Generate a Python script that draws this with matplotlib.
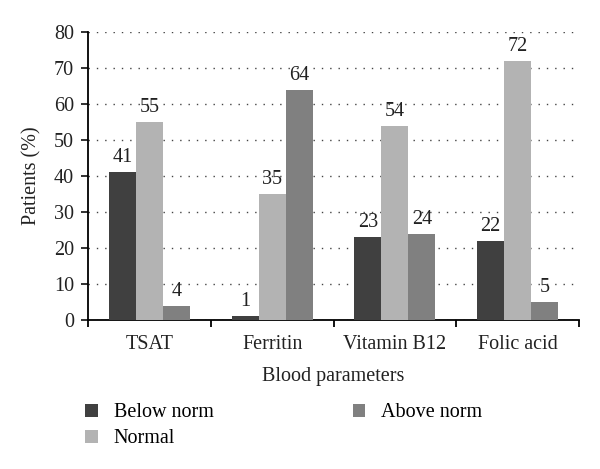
import matplotlib
matplotlib.use("Agg")
import matplotlib.pyplot as plt
from matplotlib.patches import Patch
import numpy as np

categories = ["TSAT", "Ferritin", "Vitamin B12", "Folic acid"]
series_names = ["Below norm", "Normal", "Above norm"]
below_norm = [41, 1, 23, 22]
normal = [55, 35, 54, 72]
above_norm = [4, 64, 24, 5]
colors = ["#404040", "#b3b3b3", "#808080"]
yticks = [0, 10, 20, 30, 40, 50, 60, 70, 80]

plt.rcParams['font.family'] = ['Liberation Serif', 'DejaVu Serif']
FS = 14.5

fig = plt.figure(figsize=(6.0, 4.69), dpi=100)
ax = fig.add_axes([0.1467, 0.3177, 0.965 - 0.1467, 0.9318 - 0.3177])

x = np.arange(len(categories))
w = 0.22
for i, (vals, c) in enumerate(zip([below_norm, normal, above_norm], colors)):
    pos = x + (i - 1) * w
    ax.bar(pos, vals, width=w, color=c, zorder=3, label=series_names[i])
    for p, v in zip(pos, vals):
        ax.text(p, v + 1.4, str(v), ha='center', va='bottom', fontsize=FS, color='#222222', zorder=4)

ax.set_xlim(-0.5, len(categories) - 0.5)
ax.set_ylim(0, 80)
ax.set_yticks(yticks)
ax.yaxis.grid(True, linestyle=(0, (1, 5)), color='#444444', linewidth=1.0, zorder=0)
ax.set_axisbelow(True)
for s in ['top', 'right']:
    ax.spines[s].set_visible(False)
ax.spines['left'].set_linewidth(1.3)
ax.spines['bottom'].set_linewidth(1.3)

ax.set_xticks(x)
ax.set_xticklabels(categories)
ax.set_xticks(np.arange(len(categories) + 1) - 0.5, minor=True)
ax.tick_params(axis='x', which='major', length=0, pad=11, labelsize=FS, colors='#222222')
ax.tick_params(axis='x', which='minor', length=5, width=1.3, direction='out')
ax.tick_params(axis='y', which='major', length=5, width=1.3, direction='out', pad=5, labelsize=FS, colors='#222222')

ax.set_xlabel("Blood parameters", fontsize=FS, labelpad=9, color='#222222')
ax.set_ylabel("Patients (%)", fontsize=FS, labelpad=9, color='#222222')

handles = [Patch(facecolor=c, edgecolor='none') for c in colors]
fig.legend(handles, series_names, ncol=2, loc='upper left', bbox_to_anchor=(0.142, 0.14),
           frameon=False, fontsize=FS, handlelength=0.62, handleheight=0.62, handletextpad=0.8,
           columnspacing=6.9, labelspacing=0.35, borderpad=0, borderaxespad=0)

fig.savefig("out.png", dpi=100)
